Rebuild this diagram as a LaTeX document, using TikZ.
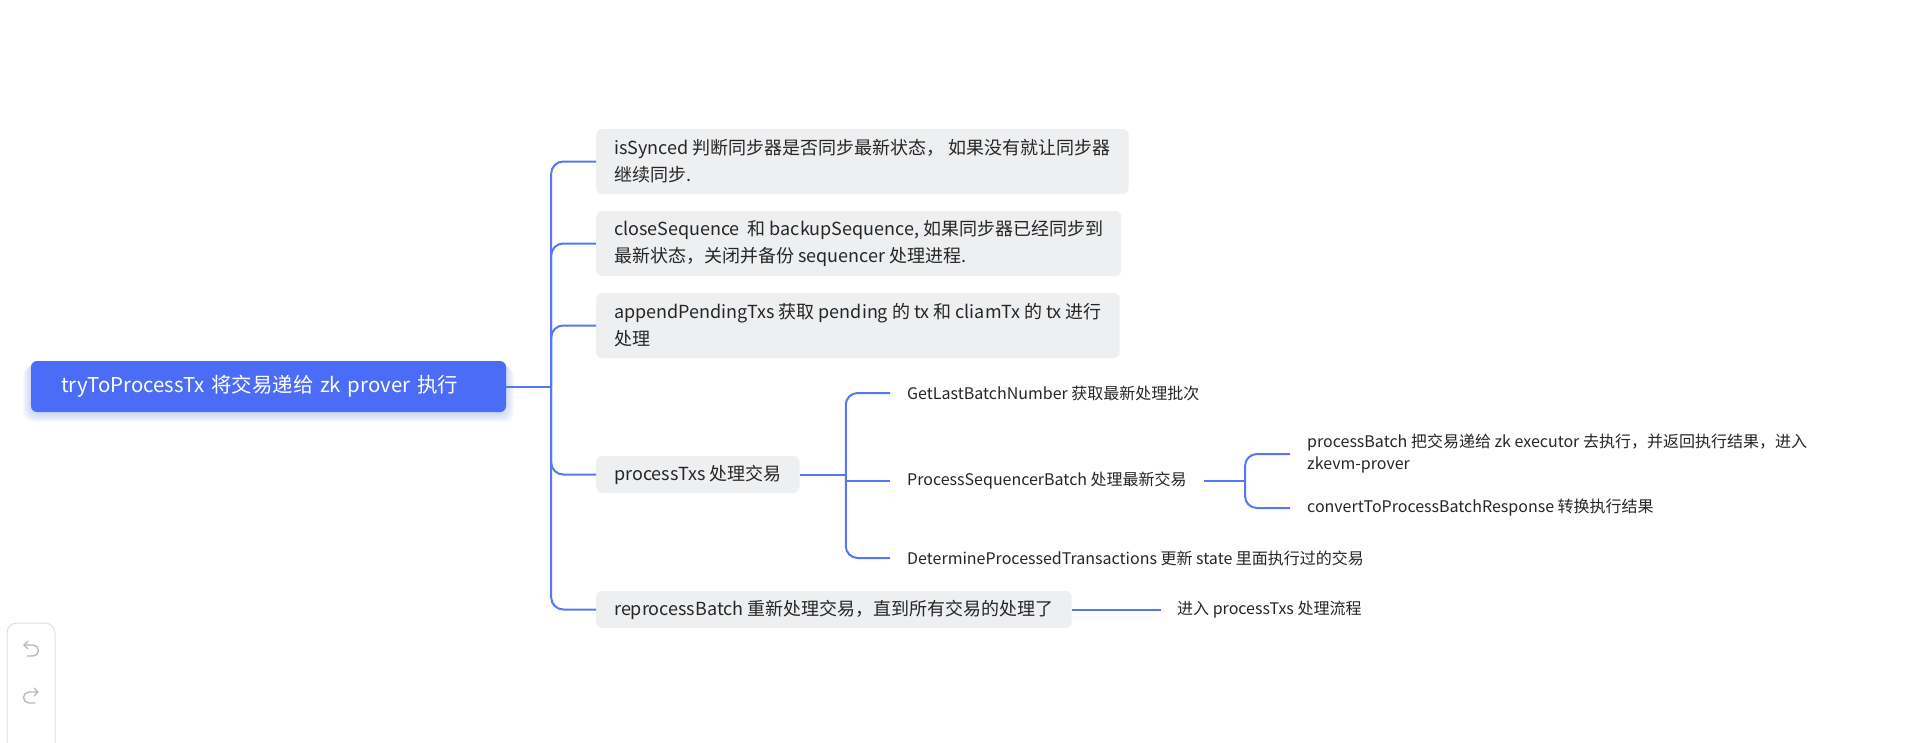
\documentclass[tikz,border=0pt]{standalone}
\usepackage{fontspec}
\setmainfont{Noto Sans CJK SC}
\usetikzlibrary{backgrounds}

\definecolor{rootblue}{HTML}{4B6CF7}
\definecolor{lineblue}{HTML}{5478F5}
\definecolor{boxgrey}{HTML}{EEEFF1}
\definecolor{txtgrey}{HTML}{262626}
\definecolor{toolgrey}{HTML}{B4B8C0}

\tikzset{
  rootbox/.style={fill=rootblue, text=white, rounded corners=6, text width=415, align=left,
    minimum height=51, inner xsep=30, inner ysep=0, font=\fontsize{20.4}{25}\selectfont},
  topicbox/.style={fill=boxgrey, text=txtgrey, rounded corners=6, anchor=west,
    align=left, inner xsep=18, inner ysep=0, font=\fontsize{18}{27}\selectfont},
  leafnode/.style={text=txtgrey, anchor=west, align=left, inner xsep=17, inner ysep=2,
    font=\fontsize{16}{22}\selectfont},
  conn/.style={draw=lineblue, line width=2, rounded corners=12},
  toolicon/.style={draw=toolgrey, line width=1.3, line cap=round, line join=round},
}

\begin{document}
\begin{tikzpicture}[x=1pt, y=-1pt]
    \useasboundingbox (0,0) rectangle (1924,742);

    % 根节点
    \node[rootbox] (root) at (268.5,386.5) {tryToProcessTx 将交易递给 zk prover 执行};

    % 一级节点
    \node[topicbox, minimum height=65] (sync) at (596,161.5)
        {isSynced 判断同步器是否同步最新状态， 如果没有就让同步器\\继续同步.};
    \node[topicbox, minimum height=65] (close) at (596,243.5)
        {closeSequence~ 和 backupSequence, 如果同步器已经同步到\\最新状态，关闭并备份 sequencer 处理进程.};
    \node[topicbox, minimum height=65] (append) at (596,325.5)
        {appendPendingTxs 获取 pending 的 tx 和 cliamTx 的 tx 进行\\处理};
    \node[topicbox, minimum height=37] (proc) at (596,474.5) {processTxs 处理交易};
    \node[topicbox, minimum height=37] (reproc) at (596,609.5)
        {reprocessBatch 重新处理交易，直到所有交易的处理了};

    \coordinate (j1) at ([xshift=45]root.east);
    \draw[conn] (root.east) -- (j1);
    \foreach \n in {sync,close,append,proc,reproc}
        \draw[conn] (j1) |- (\n.west);

    % processTxs 子节点
    \node[leafnode] (getlast) at (890,393) {GetLastBatchNumber 获取最新处理批次};
    \node[leafnode] (seqbatch) at (890,481) {ProcessSequencerBatch 处理最新交易};
    \node[leafnode] (determine) at (890,558)
        {DetermineProcessedTransactions 更新 state 里面执行过的交易};

    \coordinate (j2) at ([xshift=46]proc.east);
    \draw[conn] (proc.east) -- (j2);
    \draw[conn] (j2) |- (getlast.west);
    \draw[conn] (j2) |- (determine.west);
    \draw[conn] (j2 |- seqbatch.west) -- (seqbatch.west);

    % ProcessSequencerBatch 子节点
    \node[leafnode] (pbatch) at (1290,454)
        {processBatch 把交易递给 zk executor 去执行，并返回执行结果，进入\\zkevm-prover};
    \node[leafnode] (convert) at (1290,508) {convertToProcessBatchResponse 转换执行结果};

    \coordinate (j3) at (1245,481);
    \draw[conn] (seqbatch.east) -- (j3);
    \foreach \n in {pbatch,convert}
        \draw[conn] (j3) |- (\n.west);

    % reprocessBatch 子节点
    \node[leafnode, inner xsep=16] (enter) at (1161,609.5) {进入 processTxs 处理流程};
    \draw[conn] (reproc.east) -- (enter.west);

    % 左下角工具栏
    \draw[draw=black!12, line width=1, rounded corners=10] (7,760) -- (7,623) -- (55,623) -- (55,760);
    \draw[toolicon] (28,641) -- (24,645) -- (28,649);
    \draw[toolicon] (24,645) -- (33,645) arc[start angle=-90, end angle=90, radius=5.5] -- (27,656);
    \draw[toolicon] (34,688) -- (38,692) -- (34,696);
    \draw[toolicon] (38,692) -- (29,692) arc[start angle=-90, end angle=-270, radius=5.5] -- (35,703);

    % 背景和阴影
    \begin{scope}[on background layer]
        \fill[white] (0,0) rectangle (1924,742);
        \foreach \i in {1,...,8}
            \fill[rootblue, opacity=0.03, rounded corners=10]
                ([shift={(-\i,\i-2)}]root.north west) rectangle ([shift={(\i,\i+2)}]root.south east);
    \end{scope}
\end{tikzpicture}
\end{document}
